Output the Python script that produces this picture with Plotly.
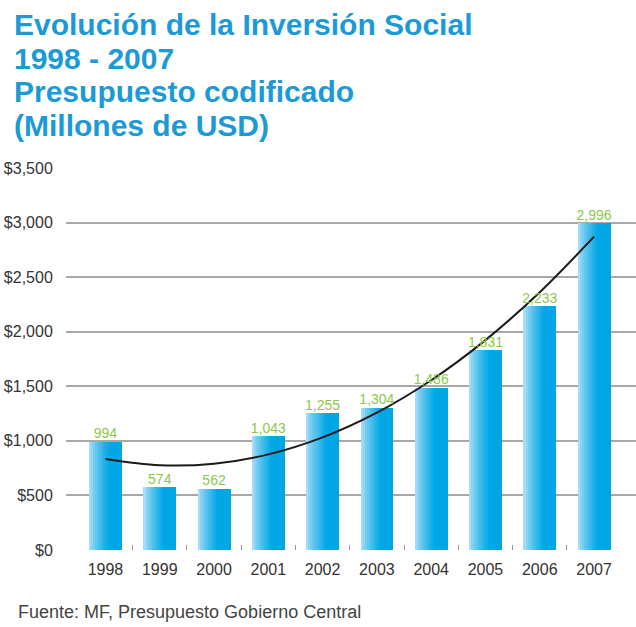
import numpy as np
import plotly.graph_objects as go

years = [1998, 1999, 2000, 2001, 2002, 2003, 2004, 2005, 2006, 2007]
values = [994, 574, 562, 1043, 1255, 1304, 1486, 1831, 2233, 2996]
ytick_vals = [0, 500, 1000, 1500, 2000, 2500, 3000, 3500]
ytick_text = ["$0", "$500", "$1,000", "$1,500", "$2,000", "$2,500", "$3,000", "$3,500"]
title_lines = ["Evolución de la Inversión Social", "1998 - 2007",
               "Presupuesto codificado", "(Millones de USD)"]
source_text = "Fuente: MF, Presupuesto Gobierno Central"

W, H = 636, 627
L, R, T, B = 66, 0, 167.5, 77.4
plot_h = H - T - B

fig = go.Figure()

# gradient bars built from vertical stripes
bar_w = 0.6
n_strip = 16
c_left = np.array([0xa6, 0xdd, 0xf6])
c_right = np.array([0x00, 0xa6, 0xe6])
for i in range(n_strip):
    f = i / (n_strip - 1)
    f = min(1.0, f * 1.6) ** 0.8
    c = c_left + (c_right - c_left) * f
    color = "rgb(%d,%d,%d)" % tuple(c.round().astype(int))
    fig.add_trace(go.Bar(
        x=years, y=values,
        width=bar_w / n_strip + 0.004,
        offset=-bar_w / 2 + i * bar_w / n_strip,
        marker=dict(color=color, line=dict(width=0)),
        showlegend=False, hoverinfo="skip",
    ))

# polynomial (order 2) trend line
coef = np.polyfit(np.arange(len(years)), values, 2)
trend = np.polyval(coef, np.arange(len(years)))
fig.add_trace(go.Scatter(
    x=years, y=trend, mode="lines",
    line=dict(color="#1a1a1a", width=2, shape="spline"),
    showlegend=False, hoverinfo="skip",
))

# data labels
fig.add_trace(go.Scatter(
    x=years, y=values, mode="text",
    text=[f"{v:,}" for v in values], textposition="top center",
    textfont=dict(family="Liberation Sans, Arial", size=14, color="#8cc84b"),
    showlegend=False, hoverinfo="skip",
))

fig.update_layout(
    width=W, height=H,
    margin=dict(l=L, r=R, t=T, b=B, pad=0),
    paper_bgcolor="white", plot_bgcolor="white",
    barmode="overlay", bargap=0,
    font=dict(family="Liberation Sans, Arial", color="#3a3a3a"),
    xaxis=dict(
        range=[years[0] - 0.727, years[-1] + 0.773],
        tickvals=years, ticktext=[str(y) for y in years],
        ticks="", showgrid=False, zeroline=False, showline=False,
        tickfont=dict(size=16, color="#333333"),
        ticklabelstandoff=8,
        minor=dict(tickvals=[y + 0.5 for y in years[:-1]], ticks="inside",
                   ticklen=5, tickcolor="#999999", tickwidth=1, showgrid=False),
    ),
    yaxis=dict(
        range=[0, 3500],
        tickvals=ytick_vals, ticktext=ytick_text,
        showgrid=True, gridcolor="#a8a8a8", gridwidth=1.5,
        zeroline=True, zerolinecolor="rgba(0,0,0,0)",
        showline=False,
        ticks="outside", ticklen=9, tickcolor="rgba(0,0,0,0)",
        tickfont=dict(size=16, color="#333333"),
    ),
)

# title lines
title_centers = [24, 58, 91, 124.5]
for txt, py in zip(title_lines, title_centers):
    fig.add_annotation(
        text=txt, xref="paper", yref="paper",
        x=(12 - L) / (W - L - R), y=(H - B - py) / plot_h,
        xanchor="left", yanchor="middle", showarrow=False,
        font=dict(family="Liberation Sans, Arial", size=30, color="#1b9ad6", weight="bold"),
    )

fig.add_annotation(
    text=source_text, xref="paper", yref="paper",
    x=(16 - L) / (W - L - R), y=(H - B - 612) / plot_h,
    xanchor="left", yanchor="middle", showarrow=False,
    font=dict(family="Liberation Sans, Arial", size=18, color="#444444"),
)

fig.write_html("out.html")
